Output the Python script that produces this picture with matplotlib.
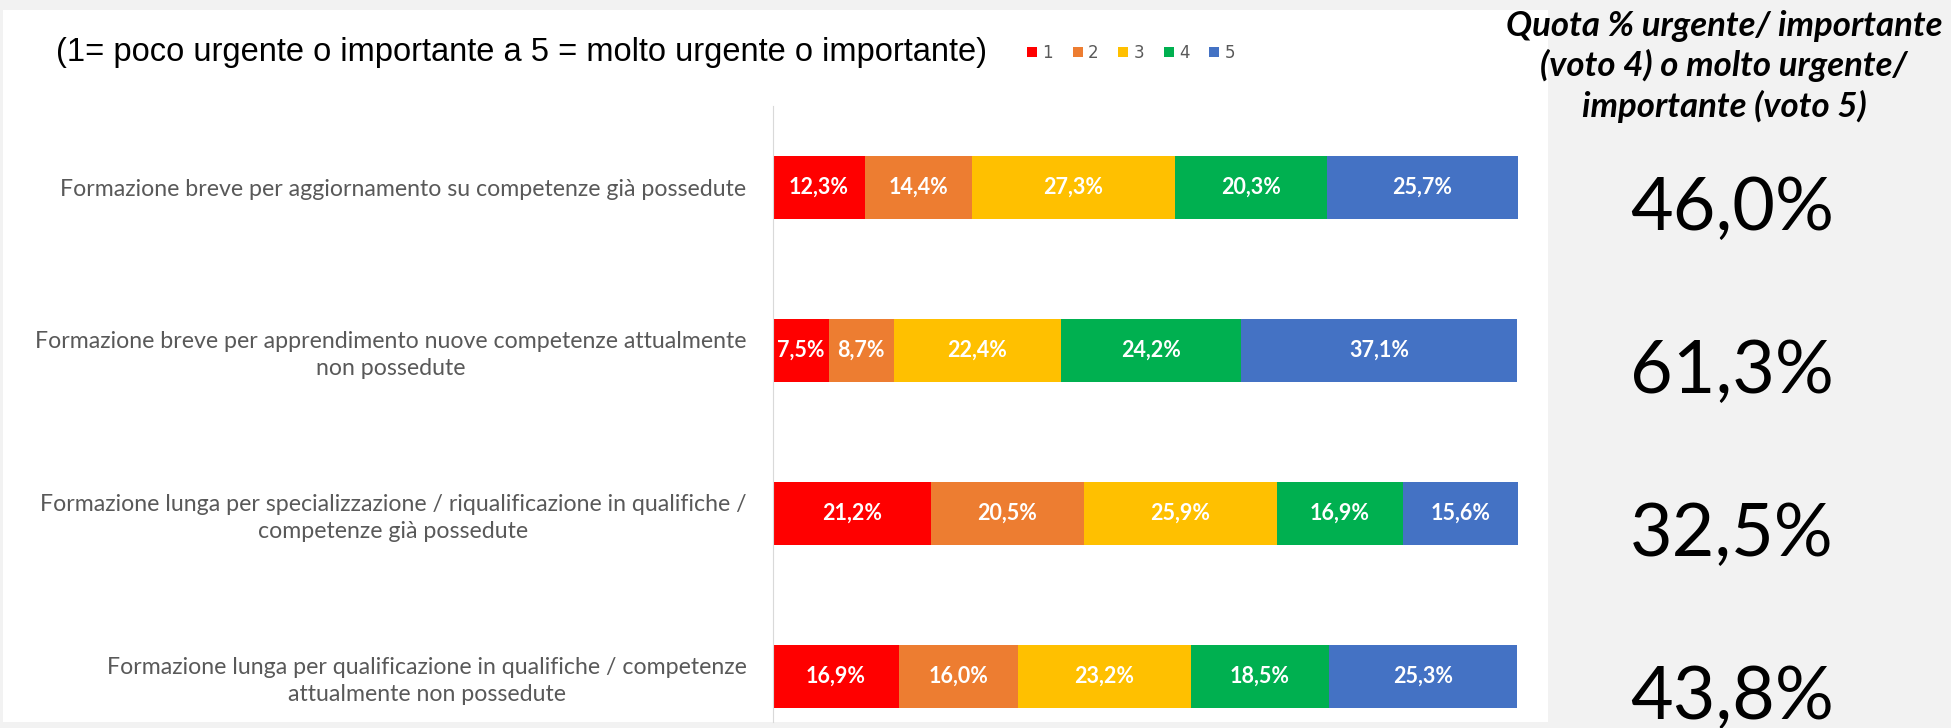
import numpy as np
import matplotlib.pyplot as plt
from matplotlib.patches import Rectangle
from matplotlib.transforms import blended_transform_factory

# data
categories = [
    "Formazione breve per aggiornamento su competenze già possedute",
    "Formazione breve per apprendimento nuove competenze attualmente\nnon possedute",
    "Formazione lunga per specializzazione / riqualificazione in qualifiche /\ncompetenze già possedute",
    "Formazione lunga per qualificazione in qualifiche / competenze\nattualmente non possedute",
]
score_labels = ["1", "2", "3", "4", "5"]
voto_1 = [12.3, 7.5, 21.2, 16.9]
voto_2 = [14.4, 8.7, 20.5, 16.0]
voto_3 = [27.3, 22.4, 25.9, 23.2]
voto_4 = [20.3, 24.2, 16.9, 18.5]
voto_5 = [25.7, 37.1, 15.6, 25.3]
colors = ["#FF0000", "#ED7D31", "#FFC000", "#00B050", "#4472C4"]

W, H = 1951, 728
fig = plt.figure(figsize=(W / 100, H / 100), dpi=100, facecolor="#f2f2f2")
fig.patches.append(Rectangle((3 / W, 1 - 722 / H), 1545 / W, 712 / H,
                             transform=fig.transFigure, facecolor="white",
                             edgecolor="none", zorder=-5))

ax = fig.add_axes([773 / W, 1 - 722 / H, (1518 - 773) / W, (722 - 106) / H])
ax.set_facecolor("none")

series = [voto_1, voto_2, voto_3, voto_4, voto_5]
y = np.arange(len(categories))
left = np.zeros(len(categories))
handles = []
for vals, col, lab in zip(series, colors, score_labels):
    vals = np.array(vals)
    bc = ax.barh(y, vals, left=left, height=0.39, color=col, label=lab)
    ax.bar_label(bc, labels=[f"{v:.1f}%".replace(".", ",") for v in vals],
                 label_type="center", color="white", fontweight="bold",
                 fontsize=15.5, family="Lato")
    handles.append(bc)
    left += vals

ax.set_xlim(0, 100)
ax.set_ylim(3.28, -0.5)
ax.set_xticks([])
ax.set_yticks(y)
ax.set_yticklabels(categories, fontsize=16.7, color="#595959", family="Lato",
                   linespacing=1.35, multialignment="center")
ax.tick_params(axis="y", length=0, pad=19)
for s in ["top", "right", "bottom"]:
    ax.spines[s].set_visible(False)
ax.spines["left"].set_color("#d9d9d9")

# title and legend
fig.text(56 / W, 1 - 53 / H,
         "(1= poco urgente o importante a 5 = molto urgente o importante)",
         fontsize=23.5, family="Liberation Sans", va="center", ha="left")
fig.legend(handles=handles, labels=score_labels, loc="center left",
           bbox_to_anchor=(1012 / W, 1 - 53 / H), ncol=5, frameon=False,
           fontsize=12, handlelength=0.6, handleheight=0.6, handletextpad=0.3,
           columnspacing=1.2, labelcolor="#595959")

# right panel
fig.text(1724 / W, 1 - 10 / H,
         "Quota % urgente/ importante\n(voto 4) o molto urgente/\nimportante (voto 5)",
         fontsize=25, family="Lato", fontweight="bold", style="italic",
         ha="center", va="top", linespacing=1.27)

share = np.array(voto_4) + np.array(voto_5)
trans = blended_transform_factory(fig.transFigure, ax.transData)
for yi, s in zip(y, share):
    ax.text(1630 / W, yi + 0.26, f"{s:.1f}%".replace(".", ","), transform=trans,
            fontsize=53, family="Lato", fontweight="normal", ha="left",
            va="baseline", clip_on=False)

fig.savefig("out.png", dpi=100, facecolor=fig.get_facecolor())
